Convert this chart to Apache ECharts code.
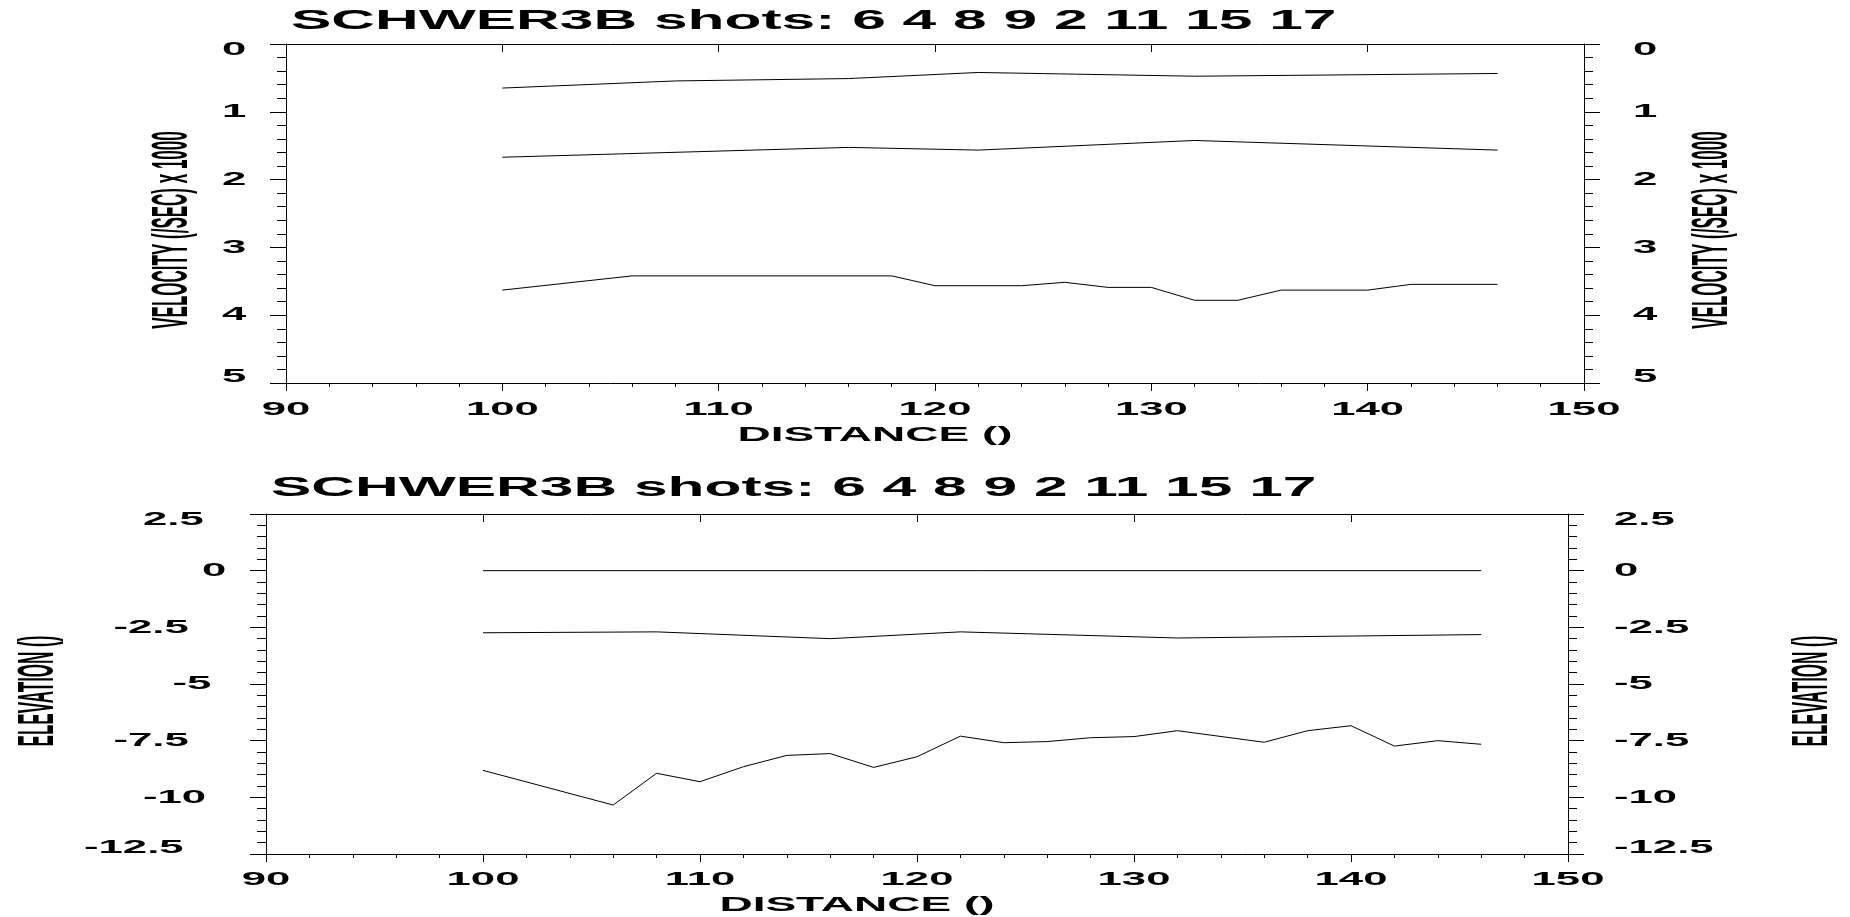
<!DOCTYPE html>
<html>
<head>
<meta charset="utf-8">
<script src="https://cdn.jsdelivr.net/npm/echarts@6/dist/echarts.min.js"></script>
<style>
  html, body { margin: 0; padding: 0; background: #fff; }
  #chart { width: 1850px; height: 917px; }
</style>
</head>
<body>
<div id="chart"></div>
<script>
// Tick values and their printed labels
const distTicks = [90, 100, 110, 120, 130, 140, 150];
const distLabels = ['90', '100', '110', '120', '130', '140', '150'];
const velTicks = [0, 1, 2, 3, 4, 5];
const velLabels = ['0', '1', '2', '3', '4', '5'];
const elevTicks = [2.5, 0, -2.5, -5, -7.5, -10, -12.5];
const elevLabels = ['2.5', '0', '-2.5', '-5', '-7.5', '-10', '-12.5'];

const titleText = 'SCHWER3B shots: 6 4 8 9 2 11 15 17';
const distName = 'DISTANCE ()';
const velName = 'VELOCITY (/SEC) x 1000';
const elevName = 'ELEVATION ()';

// Velocity boundaries (x 1000), distance vertices
const velLayer1X = [100, 108, 116, 122, 132, 146];
const velLayer1 = [0.65, 0.545, 0.51, 0.42, 0.475, 0.435];
const velLayer2X = [100, 116, 122, 132, 146];
const velLayer2 = [1.67, 1.525, 1.565, 1.423, 1.565];
const velLayer3X = [100, 106, 118, 120, 124, 126, 128, 130, 132, 134, 136, 140, 142, 146];
const velLayer3 = [3.63, 3.42, 3.42, 3.565, 3.565, 3.515, 3.59, 3.59, 3.78, 3.78, 3.63, 3.63, 3.545, 3.545];

// Elevation boundaries
const elevSurfX = [100, 146];
const elevSurf = [0, 0];
const elevLayer2X = [100, 108, 116, 122, 132, 146];
const elevLayer2 = [-2.74, -2.7, -3.0, -2.7, -2.97, -2.82];
const elevLayer3X = [100, 106, 108, 110, 112, 114, 116, 118, 120, 122, 124, 126, 128, 130, 132, 136, 138, 140, 142, 144, 146];
const elevLayer3 = [-8.81, -10.34, -8.94, -9.31, -8.65, -8.15, -8.07, -8.68, -8.21, -7.3, -7.59, -7.54, -7.37, -7.32, -7.06, -7.57, -7.06, -6.84, -7.74, -7.5, -7.66];

const FONT = '"Liberation Sans", Arial, Helvetica, sans-serif';
const WIDE = 2.3;    // horizontal stretch of the lettering
const CELL = 29.5;   // left tick labels start a fixed cell width per character before the axis

function pairs(xs, ys) { return xs.map((x, i) => [x, ys[i]]); }

const black = { color: '#000', width: 1 };

function xAxisBottom(gridIndex) {
  return {
    type: 'value', gridIndex, position: 'bottom', min: 90, max: 150, interval: 10,
    axisLine: { show: true, onZero: false, lineStyle: black },
    axisTick: { show: true, inside: false, length: 8, lineStyle: black },
    minorTick: { show: true, splitNumber: 5, length: 4, lineStyle: black },
    axisLabel: { show: false }, splitLine: { show: false }, minorSplitLine: { show: false }
  };
}
function xAxisTop(gridIndex) {
  return {
    type: 'value', gridIndex, position: 'top', min: 90, max: 150, interval: 10,
    axisLine: { show: true, onZero: false, lineStyle: black },
    axisTick: { show: true, inside: true, length: 8, lineStyle: black },
    minorTick: { show: false },
    axisLabel: { show: false }, splitLine: { show: false }
  };
}
function yAxis(gridIndex, position, min, max, interval, inverse) {
  return {
    type: 'value', gridIndex, position, min, max, interval, inverse,
    axisLine: { show: true, onZero: false, lineStyle: black },
    axisTick: { show: true, inside: false, length: 16, lineStyle: black },
    minorTick: { show: true, splitNumber: 5, length: 9, lineStyle: black },
    axisLabel: { show: false }, splitLine: { show: false }, minorSplitLine: { show: false }
  };
}
function line(xAxisIndex, yAxisIndex, xs, ys) {
  return {
    type: 'line', xAxisIndex, yAxisIndex, data: pairs(xs, ys),
    showSymbol: false, symbol: 'none', lineStyle: { color: '#000', width: 1 },
    silent: true, animation: false
  };
}

const chart = echarts.init(document.getElementById('chart'), null, { renderer: 'canvas' });

chart.setOption({
  animation: false,
  backgroundColor: '#fff',
  grid: [
    { left: 286, top: 44, width: 1298, height: 339 },
    { left: 266, top: 514, width: 1302, height: 340 }
  ],
  xAxis: [xAxisBottom(0), xAxisTop(0), xAxisBottom(1), xAxisTop(1)],
  yAxis: [
    yAxis(0, 'left', 0, 5, 1, true), yAxis(0, 'right', 0, 5, 1, true),
    yAxis(1, 'left', -12.5, 2.5, 2.5, false), yAxis(1, 'right', -12.5, 2.5, 2.5, false)
  ],
  series: [
    line(0, 0, velLayer1X, velLayer1),
    line(0, 0, velLayer2X, velLayer2),
    line(0, 0, velLayer3X, velLayer3),
    line(2, 2, elevSurfX, elevSurf),
    line(2, 2, elevLayer2X, elevLayer2),
    line(2, 2, elevLayer3X, elevLayer3)
  ]
});

// Lettering: wide bold text placed from the axes' own scales
function txt(text, x, y, size, align, vAlign, wide) {
  return {
    type: 'text', x, y, scaleX: wide || WIDE, silent: true,
    style: {
      text, font: 'bold ' + size + 'px ' + FONT, fill: '#000',
      textAlign: align, textVerticalAlign: vAlign, align: align, verticalAlign: vAlign
    }
  };
}
function sideName(text, x, y) {
  return {
    type: 'text', x, y, rotation: Math.PI / 2, scaleX: 1, scaleY: 2.9, silent: true,
    style: {
      text, font: 'bold 17px ' + FONT, fill: '#000',
      textAlign: 'center', textVerticalAlign: 'middle', align: 'center', verticalAlign: 'middle'
    }
  };
}

const g = [];
function panel(p) {
  const x0 = chart.convertToPixel({ xAxisIndex: p.xi }, 90);
  const x1 = chart.convertToPixel({ xAxisIndex: p.xi }, 150);
  const yBottom = chart.convertToPixel({ yAxisIndex: p.yl }, p.yLo);
  const yTop = chart.convertToPixel({ yAxisIndex: p.yl }, p.yHi);
  // distance tick labels
  distTicks.forEach((v, i) => {
    const px = chart.convertToPixel({ xAxisIndex: p.xi }, v);
    g.push(txt(distLabels[i], px, yBottom + p.xLabGap, 19, 'center', 'middle'));
  });
  // left/right tick labels, end labels nudged inside the frame
  p.yTicks.forEach((v, i) => {
    let py = chart.convertToPixel({ yAxisIndex: p.yl }, v);
    if (i === 0) py += (yTop < yBottom ? 6 : -6);
    if (i === p.yTicks.length - 1) py += (yTop < yBottom ? -6 : 6);
    const s = p.yLabels[i];
    g.push(txt(s, x0 - 34.5 - s.length * CELL, py, 19, 'left', 'middle'));
    g.push(txt(s, x1 + p.rightGap, py, 19, 'left', 'middle'));
  });
  g.push(txt(titleText, p.titleX, p.titleY, 27, 'left', 'middle', 2.24));
  g.push(txt(distName, p.distX, p.distY, 20, 'center', 'middle'));
  g.push(sideName(p.yName, p.nameLeftX, p.nameY));
  g.push(sideName(p.yName, p.nameRightX, p.nameY));
}

panel({
  xi: 0, yl: 0, yTicks: velTicks, yLabels: velLabels, yLo: 5, yHi: 0,
  titleX: 291, titleY: 22, distX: 875, distY: 435, xLabGap: 27, rightGap: 49,
  nameLeftX: 173, nameRightX: 1713, nameY: 230, yName: velName
});
panel({
  xi: 2, yl: 2, yTicks: elevTicks, yLabels: elevLabels, yLo: -12.5, yHi: 2.5,
  titleX: 271, titleY: 489, distX: 857, distY: 905, xLabGap: 26, rightGap: 46,
  nameLeftX: 39, nameRightX: 1813, nameY: 691, yName: elevName
});

chart.setOption({ graphic: { elements: g } });
</script>
</body>
</html>
